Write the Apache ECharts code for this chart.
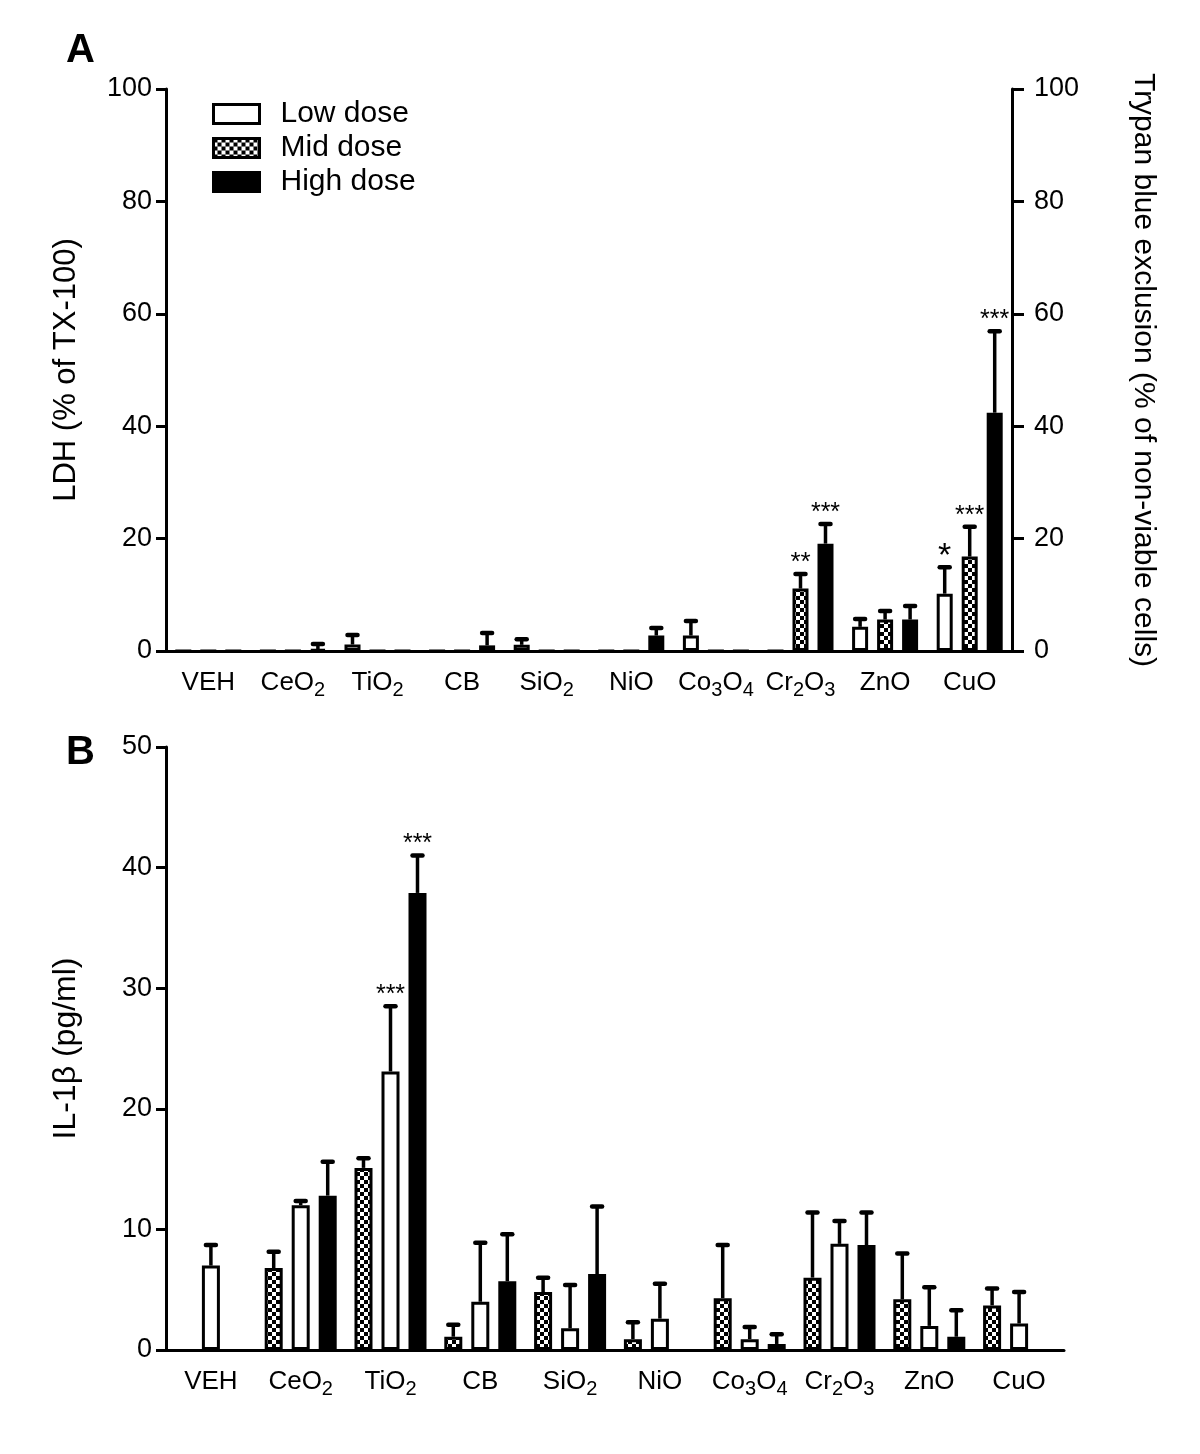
<!DOCTYPE html>
<html>
<head>
<meta charset="utf-8">
<script src="https://cdn.jsdelivr.net/npm/echarts@6/dist/echarts.min.js"></script>
<style>
html,body{margin:0;padding:0;background:#fff;}
#chart{width:1200px;height:1454px;}
</style>
</head>
<body>
<div id="chart"></div>
<script>
// ---------- DATA ----------
const categories = ['VEH','CeO2','TiO2','CB','SiO2','NiO','Co3O4','Cr2O3','ZnO','CuO'];
const seriesNames = ['Low dose','Mid dose','High dose'];

// Panel A : LDH (% of TX-100)
const ldhLow     = [0, 0, 1.15, 0, 1.1, 0, 2.75, 0, 4.3, 10.2];
const ldhLowErr  = [0, 0, 1.7, 0, 1.0, 0, 2.6, 0, 1.4, 4.7];
const ldhLowSig  = ['', '', '', '', '', '', '', '', '', '*'];
const ldhMid     = [0, 0, 0, 0, 0, 0, 0, 11.1, 5.6, 16.8];
const ldhMidErr  = [0, 0, 0, 0, 0, 0, 0, 2.6, 1.5, 5.3];
const ldhMidSig  = ['', '', '', '', '', '', '', '**', '', '***'];
const ldhHigh    = [0, 0.3, 0, 1.0, 0, 2.75, 0, 19.1, 5.6, 42.4];
const ldhHighErr = [0, 0.95, 0, 2.2, 0, 1.35, 0, 3.5, 2.4, 14.5];
const ldhHighSig = ['', '', '', '', '', '', '', '***', '', '***'];

// Panel B : IL-1beta (pg/ml)
const ilLow     = [7.0, 12.0, 23.1, 4.0, 1.8, 2.6, 0.9, 8.8, 2.0, 2.2];
const ilLowErr  = [1.7, 0.35, 5.4, 4.9, 3.6, 2.9, 1.0, 1.9, 3.2, 2.6];
const ilLowSig  = ['', '', '***', '', '', '', '', '', '', ''];
const ilMid     = [null, 6.8, 15.1, 1.1, 4.8, 0.9, 4.3, 6.0, 4.2, 3.7];
const ilMidErr  = [null, 1.35, 0.8, 1.0, 1.2, 1.4, 4.4, 5.4, 3.8, 1.4];
const ilMidSig  = ['', '', '', '', '', '', '', '', '', ''];
const ilHigh    = [null, 12.8, 37.9, 5.7, 6.3, null, 0.5, 8.7, 1.1, null];
const ilHighErr = [null, 2.8, 3.1, 3.9, 5.6, null, 0.8, 2.7, 2.2, null];
const ilHighSig = ['', '', '***', '', '', '', '', '', '', ''];

const ticksA = {min: 0, max: 100, interval: 20};
const ticksB = {min: 0, max: 50, interval: 10};

// ---------- STYLE ----------
const FONT = 'Liberation Sans, Arial, sans-serif';
const pc = document.createElement('canvas');
pc.width = 8; pc.height = 8;
const pctx = pc.getContext('2d');
pctx.fillStyle = '#fff'; pctx.fillRect(0,0,8,8);
pctx.fillStyle = '#000'; pctx.fillRect(0,0,4,4); pctx.fillRect(4,4,4,4);
const checker = {image: pc, repeat: 'repeat'};
const fills = {'Low dose': '#fff', 'Mid dose': checker, 'High dose': '#000'};

const barA = {w: 16, g: 9/16};
const barB = {w: 18, g: 0.5};

function fmtCat(name){
  return name.replace(/([^0-9]+)|([0-9]+)/g, (m, a, d) => a ? '{n|' + a + '}' : '{s|' + d + '}');
}
const catLabel = {
  margin: 19, color: '#000', formatter: fmtCat, interval: 0,
  rich: {
    n: {fontSize: 26, lineHeight: 22, verticalAlign: 'top', fontFamily: FONT, color: '#000'},
    s: {fontSize: 20, padding: [10,0,0,0], verticalAlign: 'top', fontFamily: FONT, color: '#000'}
  }
};
const axLine = {show: true, lineStyle: {color: '#000', width: 3}};
const catTick = {alignWithLabel: true, interval: 0, length: 10, lineStyle: {color: '#000', width: 3}};

function barSeries(name, xi, yi, data, b){
  return {
    type: 'bar', name: name, xAxisIndex: xi, yAxisIndex: yi, data: data,
    barWidth: b.w, barGap: (b.g * 100) + '%',
    itemStyle: {color: fills[name], borderColor: '#000', borderWidth: 3},
    emphasis: {disabled: true}, z: 2
  };
}
function errSeries(xi, yi, vals, errs, sigs, slot, b){
  const items = [];
  vals.forEach((v, i) => {
    if (v != null && errs[i]) items.push({value: [i, v, errs[i]], sig: sigs[i]});
  });
  const off = (slot - 1) * b.w * (1 + b.g);
  return {
    type: 'custom', xAxisIndex: xi, yAxisIndex: yi, z: 3, silent: true,
    data: items.map(d => d.value),
    renderItem: function(params, api){
      const i = api.value(0), v = api.value(1), e = api.value(2);
      const base = api.coord([i, v]);
      const top = api.coord([i, v + e]);
      const x = base[0] + off;
      const children = [
        {type: 'line', shape: {x1: x, y1: base[1], x2: x, y2: top[1]}, style: {stroke: '#000', lineWidth: 3.5}},
        {type: 'line', shape: {x1: x - 5, y1: top[1], x2: x + 5, y2: top[1]}, style: {stroke: '#000', lineWidth: 4.5, lineCap: 'round'}}
      ];
      const sig = items[params.dataIndex].sig;
      if (sig) {
        const fs = sig.length === 1 ? 34 : (sig.length === 2 ? 26 : 25);
        children.push({type: 'text', style: {text: sig, x: x, y: top[1] - 11, align: 'center', verticalAlign: 'middle', fontSize: fs, fontFamily: FONT, fill: '#000'}});
      }
      return {type: 'group', children: children};
    }
  };
}

const chart = echarts.init(document.getElementById('chart'), null, {renderer: 'canvas'});
const option = {
  backgroundColor: '#fff',
  animation: false,
  textStyle: {fontFamily: FONT, color: '#000'},
  legend: {
    data: seriesNames, orient: 'vertical', left: 207, top: 94, itemGap: 4,
    itemWidth: 46, itemHeight: 19, icon: 'rect', selectedMode: false,
    itemStyle: {borderWidth: 3, borderColor: '#000'},
    textStyle: {fontSize: 30, fontFamily: FONT, color: '#000', padding: [0,0,0,16]}
  },
  graphic: [
    {type: 'text', left: 66, top: 31, style: {text: 'A', fontSize: 40, fontWeight: 'bold', fontFamily: FONT, fill: '#000'}},
    {type: 'text', left: 66, top: 733, style: {text: 'B', fontSize: 40, fontWeight: 'bold', fontFamily: FONT, fill: '#000'}}
  ],
  grid: [
    {left: 166, right: 188, top: 89, height: 562},
    {left: 166, right: 136, top: 747, height: 603}
  ],
  xAxis: [
    {type: 'category', gridIndex: 0, data: categories, axisLine: axLine,
     axisTick: catTick, axisLabel: catLabel, splitLine: {show: false}},
    {type: 'category', gridIndex: 1, data: categories, axisLine: axLine,
     axisTick: catTick, axisLabel: catLabel, splitLine: {show: false}}
  ],
  yAxis: [
    {type: 'value', gridIndex: 0, position: 'left', min: ticksA.min, max: ticksA.max, interval: ticksA.interval,
     axisLine: axLine, axisTick: {show: true, length: 10, lineStyle: {color: '#000', width: 3}},
     axisLabel: {fontSize: 27, margin: 14, color: '#000', fontFamily: FONT}, splitLine: {show: false},
     name: 'LDH (% of TX-100)', nameLocation: 'middle', nameGap: 84, nameRotate: 90,
     nameTextStyle: {fontSize: 31, fontFamily: FONT, color: '#000'}},
    {type: 'value', gridIndex: 0, position: 'right', min: ticksA.min, max: ticksA.max, interval: ticksA.interval,
     axisLine: axLine, axisTick: {show: true, length: 12, lineStyle: {color: '#000', width: 3}},
     axisLabel: {fontSize: 27, margin: 22, color: '#000', fontFamily: FONT}, splitLine: {show: false},
     name: 'Trypan blue exclusion (% of non-viable cells)', nameLocation: 'middle', nameGap: 116, nameRotate: -90,
     nameTextStyle: {fontSize: 30, fontFamily: FONT, color: '#000'}},
    {type: 'value', gridIndex: 1, position: 'left', min: ticksB.min, max: ticksB.max, interval: ticksB.interval,
     axisLine: axLine, axisTick: {show: true, length: 10, lineStyle: {color: '#000', width: 3}},
     axisLabel: {fontSize: 27, margin: 14, color: '#000', fontFamily: FONT}, splitLine: {show: false},
     name: 'IL-1β (pg/ml)', nameLocation: 'middle', nameGap: 84, nameRotate: 90,
     nameTextStyle: {fontSize: 32, fontFamily: FONT, color: '#000'}}
  ],
  series: [
    barSeries('Low dose', 0, 0, ldhLow, barA),
    barSeries('Mid dose', 0, 0, ldhMid, barA),
    barSeries('High dose', 0, 0, ldhHigh, barA),
    errSeries(0, 0, ldhLow, ldhLowErr, ldhLowSig, 0, barA),
    errSeries(0, 0, ldhMid, ldhMidErr, ldhMidSig, 1, barA),
    errSeries(0, 0, ldhHigh, ldhHighErr, ldhHighSig, 2, barA),
    barSeries('Mid dose', 1, 2, ilMid, barB),
    barSeries('Low dose', 1, 2, ilLow, barB),
    barSeries('High dose', 1, 2, ilHigh, barB),
    errSeries(1, 2, ilMid, ilMidErr, ilMidSig, 0, barB),
    errSeries(1, 2, ilLow, ilLowErr, ilLowSig, 1, barB),
    errSeries(1, 2, ilHigh, ilHighErr, ilHighSig, 2, barB)
  ]
};
chart.setOption(option);
</script>
</body>
</html>
